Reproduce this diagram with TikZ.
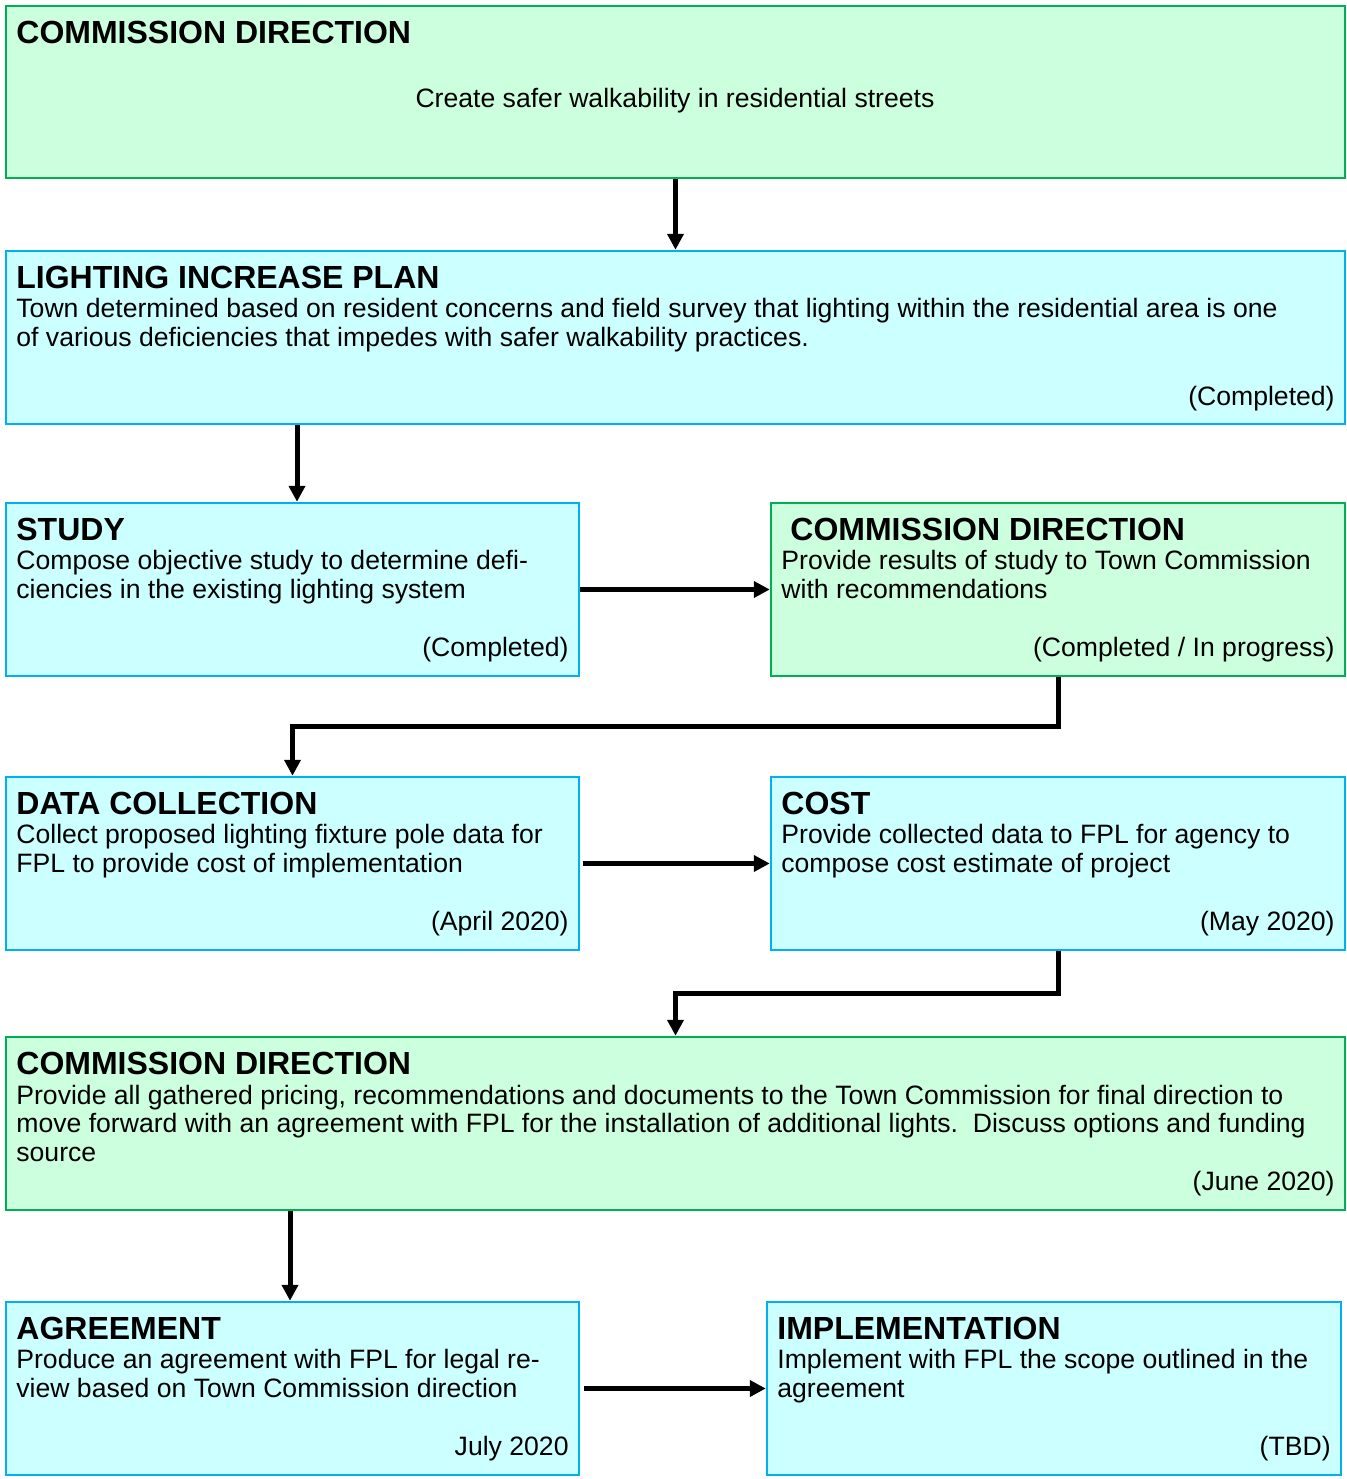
\documentclass[tikz,border=0pt]{standalone}
\usepackage{fontspec}
\setmainfont{Liberation Sans}
\usetikzlibrary{arrows.meta,fit}
\definecolor{gfill}{RGB}{204,255,221}
\definecolor{gline}{RGB}{0,176,80}
\definecolor{cfill}{RGB}{204,255,255}
\definecolor{cline}{RGB}{0,176,240}
\begin{document}
\begin{tikzpicture}[x=0.5pt,y=-0.5pt,
  gbox/.style={draw=gline,fill=gfill,line width=1.25pt,inner sep=0pt,rectangle},
  cbox/.style={draw=cline,fill=cfill,line width=1.25pt,inner sep=0pt,rectangle},
  conn/.style={line width=2.5pt,-{Triangle[length=8pt,width=8pt]}},
  ttl/.style={inner sep=0pt,anchor=base west,font=\bfseries\fontsize{16}{19}\selectfont},
  bdy/.style={inner sep=0pt,anchor=base west,align=left,font=\fontsize{13.3}{14.25}\selectfont},
  sts/.style={inner sep=0pt,anchor=base east,font=\fontsize{13.3}{14.25}\selectfont}]
\useasboundingbox (0,0) rectangle (1347,1479);
% boxes
\node[gbox,fit={(6,6) (1345,178)}] (b1) {};
\node[cbox,fit={(6,251) (1345,424)}] (b2) {};
\node[cbox,fit={(6,503) (579,676)}] (b3) {};
\node[gbox,fit={(771,503) (1345,676)}] (b4) {};
\node[cbox,fit={(6,777) (579,950)}] (b5) {};
\node[cbox,fit={(771,777) (1345,950)}] (b6) {};
\node[gbox,fit={(6,1037) (1345,1210)}] (b7) {};
\node[cbox,fit={(6,1302) (579,1475)}] (b8) {};
\node[cbox,fit={(767,1302) (1341,1475)}] (b9) {};
% texts (multi-line nodes: base = baseline of last line)
\node[ttl] (t1) at (16,43) {COMMISSION DIRECTION};
\node[bdy,anchor=base] (d1) at (675,107) {Create safer walkability in residential streets};
\node[ttl] (t2) at (16,288) {LIGHTING INCREASE PLAN};
\node[bdy] (d2) at (16,346) {Town determined based on resident concerns and field survey that lighting within the residential area is one\\of various deficiencies that impedes with safer walkability practices.};
\node[sts] (s2) at (1335,405) {(Completed)};
\node[ttl] (t3) at (16,540) {STUDY};
\node[bdy] (d3) at (16,598) {Compose objective study to determine defi-\\ciencies in the existing lighting system};
\node[sts] (s3) at (569,656) {(Completed)};
\node[ttl] (t4) at (790,540) {COMMISSION DIRECTION};
\node[bdy] (d4) at (781,598) {Provide results of study to Town Commission\\with recommendations};
\node[sts] (s4) at (1335,656) {(Completed / In progress)};
\node[ttl] (t5) at (16,814) {DATA COLLECTION};
\node[bdy] (d5) at (16,872) {Collect proposed lighting fixture pole data for\\FPL to provide cost of implementation};
\node[sts] (s5) at (569,930) {(April 2020)};
\node[ttl] (t6) at (781,814) {COST};
\node[bdy] (d6) at (781,872) {Provide collected data to FPL for agency to\\compose cost estimate of project};
\node[sts] (s6) at (1335,930) {(May 2020)};
\node[ttl] (t7) at (16,1074) {COMMISSION DIRECTION};
\node[bdy] (d7) at (16,1161) {Provide all gathered pricing, recommendations and documents to the Town Commission for final direction to\\move forward with an agreement with FPL for the installation of additional lights.\ \ Discuss options and funding\\source};
\node[sts] (s7) at (1335,1190) {(June 2020)};
\node[ttl] (t8) at (16,1339) {AGREEMENT};
\node[bdy] (d8) at (16,1397) {Produce an agreement with FPL for legal re-\\view based on Town Commission direction};
\node[sts] (s8) at (569,1455) {July 2020};
\node[ttl] (t9) at (777,1339) {IMPLEMENTATION};
\node[bdy] (d9) at (777,1397) {Implement with FPL the scope outlined in the\\agreement};
\node[sts] (s9) at (1331,1455) {(TBD)};
% helper coordinates
\coordinate (k297) at (297,0);
\coordinate (k1058) at (1058,0);
\coordinate (k290) at (290,0);
\coordinate (m1) at (292.5,726);
\coordinate (m2) at (675.5,993);
% connectors
\draw[conn] (b1.south) -- (b2.north);
\draw[conn] (b2.south -| k297) -- (b3.north -| k297);
\draw[conn] (b3.east) -- (b4.west);
\draw[conn] (b4.south -| k1058) |- (m1) -- (b5.north);
\draw[conn] ([xshift=1.5pt]b5.east) -- (b6.west);
\draw[conn] (b6.south -| k1058) |- (m2) -- (b7.north);
\draw[conn] (b7.south -| k290) -- (b8.north -| k290);
\draw[conn] ([xshift=2pt]b8.east) -- (b9.west);
\end{tikzpicture}
\end{document}
